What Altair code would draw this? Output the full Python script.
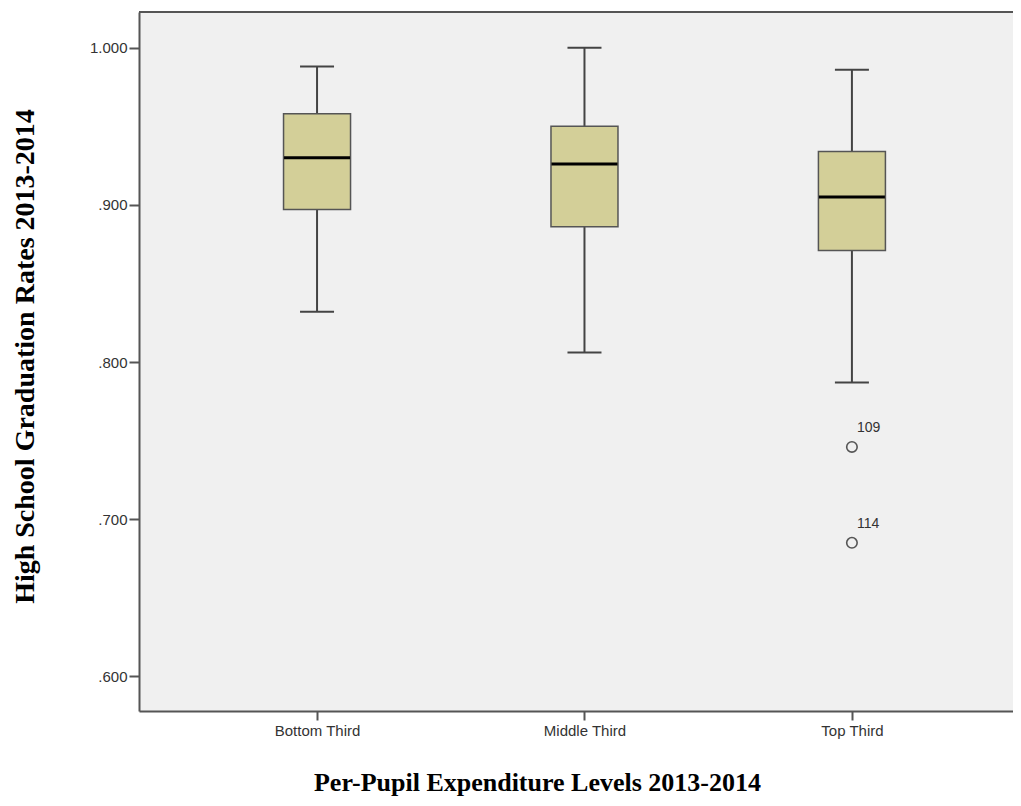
import altair as alt
import pandas as pd

# ---- data ----
groups = ["Bottom Third", "Middle Third", "Top Third"]
whisker_low = [0.832, 0.806, 0.787]
q1 = [0.897, 0.886, 0.871]
median = [0.930, 0.926, 0.905]
q3 = [0.958, 0.950, 0.934]
whisker_high = [0.988, 1.000, 0.986]

outlier_group = ["Top Third", "Top Third"]
outlier_value = [0.746, 0.685]
outlier_label = ["109", "114"]

y_ticks = [0.6, 0.7, 0.8, 0.9, 1.0]

box_df = pd.DataFrame({
    "group": groups, "lo": whisker_low, "q1": q1, "med": median,
    "q3": q3, "hi": whisker_high,
})
out_df = pd.DataFrame({"group": outlier_group, "value": outlier_value,
                       "label": outlier_label})

PLOT_W, PLOT_H = 874, 699
AX = "#555555"

x_enc = alt.X(
    "group:N", sort=groups,
    scale=alt.Scale(type="point", padding=0.634, align=0.525),
    axis=alt.Axis(
        title="Per-Pupil Expenditure Levels 2013-2014",
        labelAngle=0, labelFont="Liberation Sans", labelFontSize=15,
        labelColor="#333333", labelPadding=3,
        tickSize=9, tickWidth=2, tickColor=AX,
        domainColor=AX, domainWidth=2,
        titleFont="Liberation Serif", titleFontSize=26, titleFontWeight="bold",
        titleColor="#000000", titleX=398, titleY=79,
        titleAlign="center", titleBaseline="alphabetic", titleAnchor="start",
    ),
)

y_scale = alt.Scale(domain=[0.578, 1.0227], nice=False, zero=False)
y_axis = alt.Axis(
    title="High School Graduation Rates 2013-2014",
    values=y_ticks,
    labelExpr="datum.value >= 1 ? format(datum.value, '.3f') : replace(format(datum.value, '.3f'), '0.', '.')",
    labelFont="Liberation Sans", labelFontSize=15, labelColor="#333333",
    labelPadding=2, tickSize=10, tickWidth=2, tickColor=AX,
    domainColor=AX, domainWidth=2, grid=False,
    titleFont="Liberation Serif", titleFontSize=28, titleFontWeight="bold",
    titleColor="#000000", titleAngle=270, titleX=-106, titleY=344,
    titleAlign="center", titleBaseline="alphabetic", titleAnchor="start",
)

base = alt.Chart(box_df)

whisk_lo = base.mark_rule(color="#444444", strokeWidth=2).encode(
    x=x_enc, y=alt.Y("lo:Q", scale=y_scale, axis=y_axis), y2="q1:Q")
whisk_hi = base.mark_rule(color="#444444", strokeWidth=2).encode(
    x=x_enc, y=alt.Y("q3:Q", scale=y_scale, axis=y_axis), y2="hi:Q")
cap_lo = base.mark_tick(color="#444444", thickness=2, size=34, opacity=1).encode(
    x=x_enc, y=alt.Y("lo:Q", scale=y_scale, axis=y_axis))
cap_hi = base.mark_tick(color="#444444", thickness=2, size=34, opacity=1).encode(
    x=x_enc, y=alt.Y("hi:Q", scale=y_scale, axis=y_axis))
box = base.mark_bar(size=67, fill="#d3cf98", stroke="#555555",
                    strokeWidth=1.5, opacity=1).encode(
    x=x_enc, y=alt.Y("q1:Q", scale=y_scale, axis=y_axis), y2="q3:Q")
med = base.mark_tick(color="#000000", thickness=3, size=66, opacity=1).encode(
    x=x_enc, y=alt.Y("med:Q", scale=y_scale, axis=y_axis))

pts = alt.Chart(out_df).mark_point(shape="circle", filled=False, size=110,
                                   color="#555555", strokeWidth=1.6,
                                   opacity=1).encode(
    x=x_enc, y=alt.Y("value:Q", scale=y_scale, axis=y_axis))
labels = alt.Chart(out_df).mark_text(align="left", baseline="middle", dx=5,
                                     dy=-19, font="Liberation Sans",
                                     fontSize=14, color="#333333").encode(
    x=x_enc, y=alt.Y("value:Q", scale=y_scale, axis=y_axis), text="label:N")

top_border = alt.Chart(box_df).mark_rule(color=AX, strokeWidth=2).encode(
    x=alt.value(0), x2=alt.value(PLOT_W), y=alt.value(0))

chart = alt.layer(whisk_lo, whisk_hi, cap_lo, cap_hi, box, med, pts, labels,
                  top_border).properties(
    width=PLOT_W, height=PLOT_H,
    padding={"left": 131, "top": 4, "right": 0, "bottom": 87},
    autosize=alt.AutoSizeParams(type="none"),
).configure_view(fill="#f0f0f0", strokeOpacity=0)

chart.save("out.html", embed_options={"renderer": "svg", "actions": False})
